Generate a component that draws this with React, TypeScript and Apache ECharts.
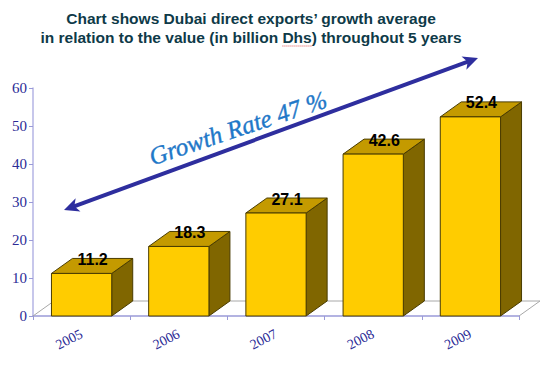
import React, { useEffect, useRef } from "react";
import * as echarts from "echarts";

const years = ["2005", "2006", "2007", "2008", "2009"];
const exportsValues = [11.2, 18.3, 27.1, 42.6, 52.4];
const yMin = 0;
const yMax = 60;
const yInterval = 10;
const titleLines = [
  "Chart shows Dubai direct exports\u2019 growth average",
  "in relation to the value (in billion Dhs) throughout 5 years",
];
const underlinedWord = "Dhs";
const growthLabel = "Growth Rate 47 %";

const DX = 21;
const DY = 15;

export default function App() {
  const ref = useRef<HTMLDivElement>(null);
  useEffect(() => {
    if (!ref.current) return;
    const chart = echarts.init(ref.current, null, { renderer: "svg" });

    const titleFont = "bold 15.5px Arial, 'Liberation Sans'";
    const titleX = 251;
    // measure position of the underlined word in line 2
    const cv = document.createElement("canvas").getContext("2d")!;
    cv.font = titleFont;
    const fullW = cv.measureText(titleLines[1]).width;
    const pos = titleLines[1].indexOf(underlinedWord);
    const preW = cv.measureText(titleLines[1].slice(0, pos)).width;
    const wordW = cv.measureText(underlinedWord).width;
    const ulX1 = titleX - fullW / 2 + preW;
    const ulX2 = ulX1 + wordW;

    // arrow geometry (annotation)
    const a = [64, 210];
    const b = [478, 58];
    const len = Math.hypot(b[0] - a[0], b[1] - a[1]);
    const ux = (b[0] - a[0]) / len;
    const uy = (b[1] - a[1]) / len;
    const px = -uy;
    const py = ux;
    const HL = 15;
    const HW = 7;
    const head = (tip: number[], dir: number) => [
      tip,
      [tip[0] - dir * ux * HL + px * HW, tip[1] - dir * uy * HL + py * HW],
      [tip[0] - dir * ux * (HL - 4), tip[1] - dir * uy * (HL - 4)],
      [tip[0] - dir * ux * HL - px * HW, tip[1] - dir * uy * HL - py * HW],
    ];
    const angle = Math.atan2(a[1] - b[1], b[0] - a[0]);

    const option: any = {
      animation: false,
      backgroundColor: "#ffffff",
      grid: { left: 33, right: 31, top: 88, bottom: 50, containLabel: false },
      xAxis: {
        type: "category",
        data: years,
        axisLine: { lineStyle: { color: "#9a9ad8", width: 1.5 } },
        axisTick: { show: true, length: 4, lineStyle: { color: "#9a9ad8" } },
        axisLabel: {
          rotate: 27,
          margin: 17,
          fontFamily: "Liberation Serif",
          fontSize: 14,
          color: "#2b2b96",
        },
        splitLine: { show: false },
      },
      yAxis: {
        type: "value",
        min: yMin,
        max: yMax,
        interval: yInterval,
        axisLine: { show: true, lineStyle: { color: "#b4b4e4", width: 1.5 } },
        axisTick: { show: true, length: 4, lineStyle: { color: "#9a9ad8" } },
        axisLabel: {
          margin: 6,
          fontFamily: "Liberation Serif",
          fontSize: 15,
          color: "#2b2b96",
        },
        splitLine: { show: false },
      },
      series: [
        {
          type: "custom",
          z: 1,
          data: [[0, 0]],
          renderItem: (params: any) => {
            const cs = params.coordSys;
            const x = cs.x;
            const yb = cs.y + cs.height;
            const w = cs.width;
            return {
              type: "polyline",
              shape: {
                points: [
                  [x, yb],
                  [x + DX, yb - DY],
                  [x + w + DX, yb - DY],
                  [x + w, yb],
                ],
              },
              style: { stroke: "#a8a8a8", lineWidth: 1, fill: null },
            };
          },
        },
        {
          type: "custom",
          z: 2,
          data: years.map((_, i) => [i, exportsValues[i]]),
          renderItem: (params: any, api: any) => {
            const idx = api.value(0);
            const val = api.value(1);
            const top = api.coord([idx, val]);
            const base = api.coord([idx, 0]);
            const bw = api.size([1, 0])[0] * 0.62;
            const x0 = top[0] - bw / 2;
            const x1 = top[0] + bw / 2;
            const yT = top[1];
            const yB = base[1];
            const stroke = "#4a3c00";
            return {
              type: "group",
              children: [
                {
                  type: "polygon",
                  shape: {
                    points: [
                      [x1, yB],
                      [x1 + DX, yB - DY],
                      [x1 + DX, yT - DY],
                      [x1, yT],
                    ],
                  },
                  style: { fill: "#806600", stroke, lineWidth: 1 },
                },
                {
                  type: "polygon",
                  shape: {
                    points: [
                      [x0, yT],
                      [x0 + DX, yT - DY],
                      [x1 + DX, yT - DY],
                      [x1, yT],
                    ],
                  },
                  style: { fill: "#C49A00", stroke, lineWidth: 1 },
                },
                {
                  type: "rect",
                  shape: { x: x0, y: yT, width: bw, height: yB - yT },
                  style: { fill: "#FFCC00", stroke, lineWidth: 1 },
                },
                {
                  type: "text",
                  x: top[0] + 11,
                  y: yT - DY + 1,
                  style: {
                    text: val.toFixed(1),
                    font: "bold 16px Arial, 'Liberation Sans'",
                    fill: "#000000",
                    align: "center",
                    verticalAlign: "middle",
                  },
                },
              ],
            };
          },
        },
      ],
      graphic: [
        {
          type: "text",
          x: titleX,
          y: 18,
          style: {
            text: titleLines[0],
            font: titleFont,
            fill: "#0e3a48",
            align: "center",
            verticalAlign: "middle",
          },
        },
        {
          type: "text",
          x: titleX,
          y: 37,
          style: {
            text: titleLines[1],
            font: titleFont,
            fill: "#0e3a48",
            align: "center",
            verticalAlign: "middle",
          },
        },
        {
          type: "line",
          shape: { x1: ulX1, y1: 46, x2: ulX2, y2: 46 },
          style: { stroke: "#e05050", lineWidth: 1, lineDash: [1, 1] },
        },
        {
          type: "line",
          shape: {
            x1: a[0] + ux * 10,
            y1: a[1] + uy * 10,
            x2: b[0] - ux * 10,
            y2: b[1] - uy * 10,
          },
          style: { stroke: "#2e2e9e", lineWidth: 4 },
        },
        {
          type: "polygon",
          shape: { points: head(b, 1) },
          style: { fill: "#2e2e9e" },
        },
        {
          type: "polygon",
          shape: { points: head(a, -1) },
          style: { fill: "#2e2e9e" },
        },
        {
          type: "text",
          x: 238,
          y: 128,
          rotation: angle - 0.03,
          style: {
            text: growthLabel,
            font: "italic 25px 'Liberation Serif'",
            fill: "#1f78c8",
            stroke: "#1f78c8",
            lineWidth: 0.4,
            align: "center",
            verticalAlign: "middle",
          },
        },
      ],
    };
    chart.setOption(option);
    return () => chart.dispose();
  }, []);
  return (
    <div
      ref={ref}
      style={{ position: "fixed", left: 0, top: 0, width: 550, height: 366 }}
    />
  );
}
